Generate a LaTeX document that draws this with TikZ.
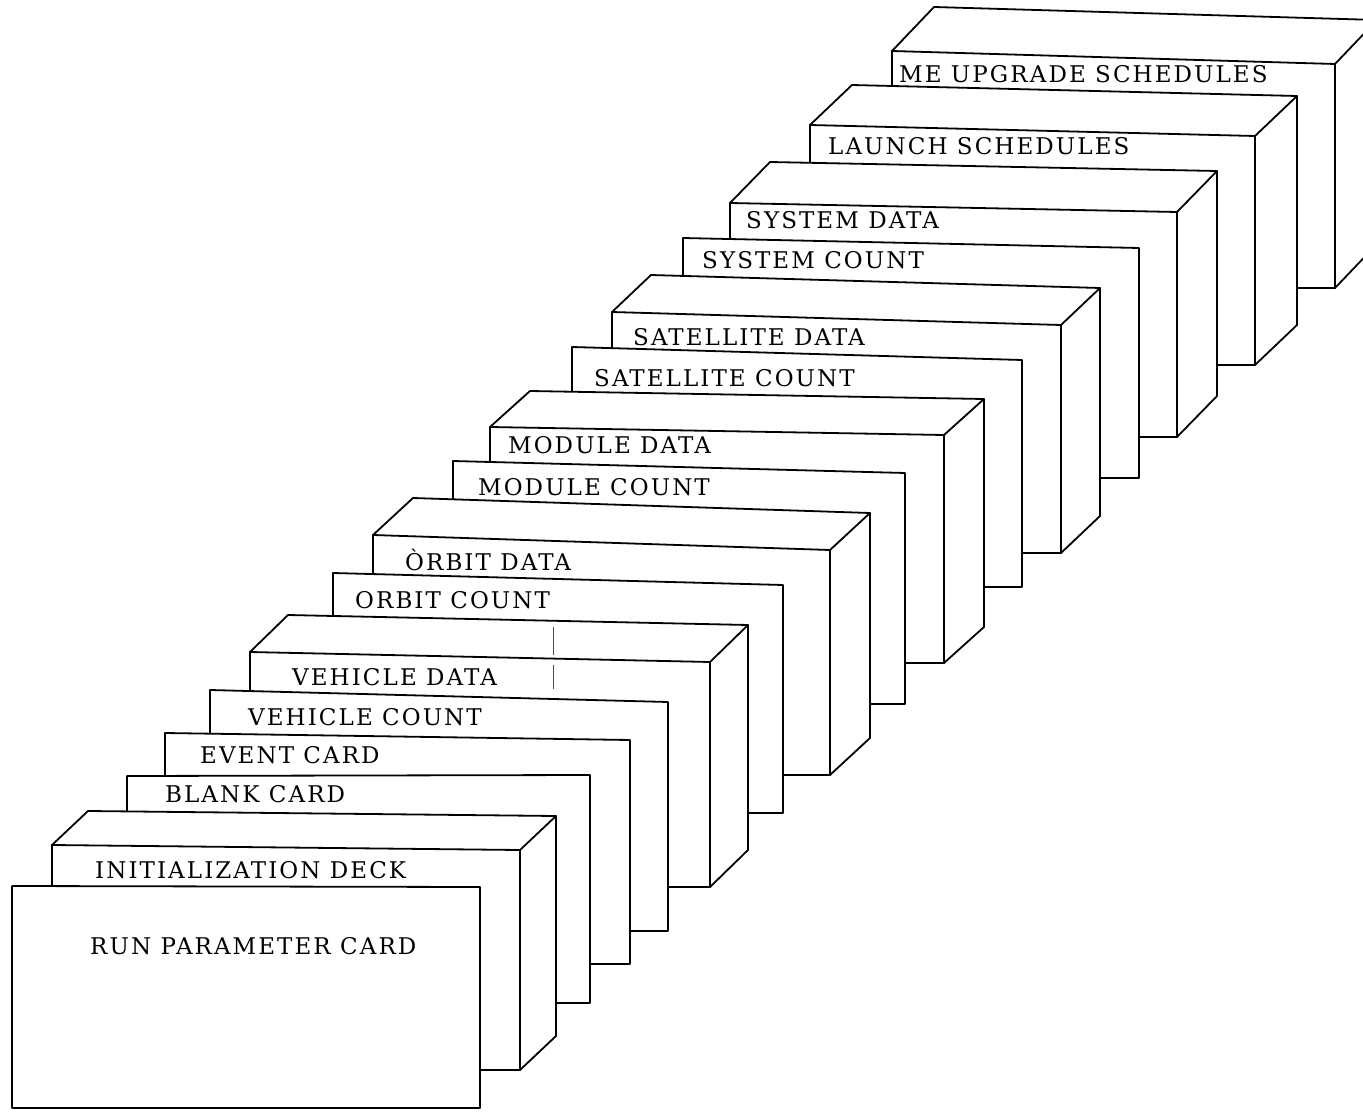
\documentclass[tikz,border=0pt]{standalone}
\usepackage{fontspec}
\newfontfamily\lblfont{DejaVu Serif}[LetterSpace=9]
\newcommand{\cardrect}[5]{% L, TL, R, TR, B
  \draw[face] (#1,#2) -- (#3,#4) -- (#3,#5) -- (#1,#5) -- cycle;}
\newcommand{\deckbox}[7]{% L, TL, R, TR, B, dx, dy
  \draw[face] (#1,#2) -- ++(#6,#7) -- ({#3+#6},{#4+#7}) -- ({#3+#6},{#5+#7}) -- (#3,#5) -- (#1,#5) -- cycle;
  \draw[edge] (#1,#2) -- (#3,#4) -- (#3,#5);
  \draw[edge] (#3,#4) -- ++(#6,#7);}
\begin{document}
\begin{tikzpicture}[x=1pt,y=-1pt,
  face/.style={draw=black, fill=white, line width=1.8pt, line join=round},
  edge/.style={draw=black, line width=1.8pt, line join=round, line cap=round},
  lbl/.style={font=\lblfont\fontsize{23}{26}\selectfont, inner sep=0pt, anchor=base west},
  faint/.style={draw=black!70, line width=0.9pt}]
\useasboundingbox (0,0) rectangle (1363,1115);
\clip (0,0) rectangle (1363,1115);
% back to front
\deckbox{892}{51}{1335}{64}{288}{42}{-44}
\node[lbl] (meup) at (899,83) {ME UPGRADE SCHEDULES};
\deckbox{810}{125}{1255}{136}{365}{42}{-40}
\node[lbl] (launch) at (828,155) {LAUNCH SCHEDULES};
\deckbox{730}{203}{1177}{212}{437}{40}{-41}
\node[lbl] (sysdata) at (746,229) {SYSTEM DATA};
\cardrect{683}{238}{1139}{248}{478}
\node[lbl] (syscount) at (702,269) {SYSTEM COUNT};
\deckbox{612}{312}{1061}{325}{553}{39}{-37}
\node[lbl] (satdata) at (633,345) {SATELLITE DATA};
\cardrect{572}{347}{1022}{360}{587}
\node[lbl] (satcount) at (594,386) {SATELLITE COUNT};
\deckbox{490}{427}{944}{435}{663}{40}{-36}
\node[lbl] (moddata) at (508,453) {MODULE DATA};
\cardrect{453}{461}{905}{473}{704}
\node[lbl] (modcount) at (478,495) {MODULE COUNT};
\deckbox{373}{535}{830}{550}{775}{40}{-37}
\node[lbl] (orbdata) at (405,570) {\`ORBIT DATA};
\cardrect{333}{573}{783}{585}{813}
\node[lbl] (orbcount) at (355,608) {ORBIT COUNT};
\deckbox{250}{652}{710}{662}{887}{38}{-37}
\node[lbl] (vehdata) at (292,685) {VEHICLE DATA};
\draw[faint] (553,627) -- (553,655);
\draw[faint] (553,665) -- (553,689);
\cardrect{210}{690}{668}{702}{931}
\node[lbl] (vehcount) at (248,725) {VEHICLE COUNT};
\cardrect{165}{733}{630}{740}{964}
\node[lbl] (event) at (200,763) {EVENT CARD};
\cardrect{127}{776}{590}{775}{1003}
\node[lbl] (blank) at (165,802) {BLANK CARD};
\deckbox{52}{845}{520}{850}{1070}{36}{-34}
\node[lbl] (init) at (95,878) {INITIALIZATION DECK};
\cardrect{12}{886}{480}{887}{1108}
\node[lbl] (runparam) at (90,954) {RUN PARAMETER CARD};
\end{tikzpicture}
\end{document}
